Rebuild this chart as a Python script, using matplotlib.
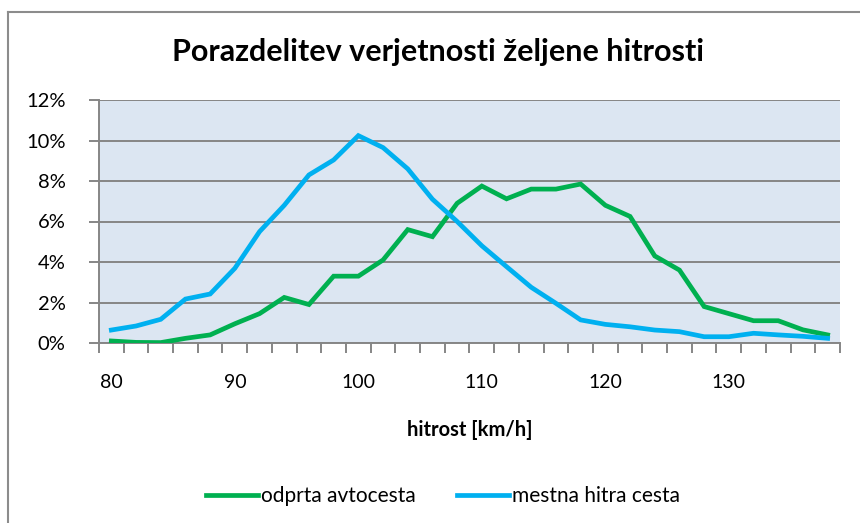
import matplotlib
matplotlib.use("Agg")
import matplotlib.pyplot as plt
from matplotlib.ticker import FixedLocator, FuncFormatter

plt.rcParams['font.family'] = ['Lato', 'DejaVu Sans']

# data, speed classes 80..138 km/h
hitrost = list(range(80, 140, 2))
odprta_avtocesta = [0.10, 0.03, 0.02, 0.23, 0.40, 0.95, 1.45, 2.25, 1.90, 3.30,
                    3.30, 4.10, 5.60, 5.25, 6.90, 7.75, 7.12, 7.60, 7.60, 7.85,
                    6.80, 6.25, 4.30, 3.60, 1.80, 1.45, 1.10, 1.10, 0.65, 0.40]
mestna_hitra_cesta = [0.64, 0.84, 1.17, 2.17, 2.42, 3.69, 5.50, 6.80, 8.30, 9.04,
                      10.24, 9.65, 8.60, 7.10, 6.00, 4.80, 3.77, 2.75, 1.96, 1.14,
                      0.92, 0.80, 0.64, 0.56, 0.31, 0.31, 0.48, 0.40, 0.33, 0.23]
series_names = ['odprta avtocesta', 'mestna hitra cesta']
x_labels = [80, 90, 100, 110, 120, 130]
y_ticks = [0, 2, 4, 6, 8, 10, 12]

W, H = 860, 523
fig = plt.figure(figsize=(W / 100, H / 100), dpi=100)

# outer chart border (only left and top visible in the crop)
fig.add_artist(plt.Line2D([8 / W, 8 / W], [0, 1 - 12 / H], color='#8c8c8c', lw=1.5))
fig.add_artist(plt.Line2D([8 / W, 1], [1 - 12 / H, 1 - 12 / H], color='#8c8c8c', lw=1.5))

ax = fig.add_axes([99 / W, 1 - 343 / H, (840 - 99) / W, (343 - 100) / H])
ax.set_facecolor('#dce6f2')

ax.plot(hitrost, odprta_avtocesta, color='#00b050', lw=3.4, solid_joinstyle='miter',
        label=series_names[0], zorder=3)
ax.plot(hitrost, mestna_hitra_cesta, color='#00b0f0', lw=3.4, solid_joinstyle='miter',
        label=series_names[1], zorder=3)

ax.set_xlim(79, 139)
ax.set_ylim(0, 12)

ax.set_yticks(y_ticks)
ax.yaxis.set_major_formatter(FuncFormatter(lambda v, p: f'{v:.0f}%'))
ax.grid(axis='y', color='#868686', lw=1.4)
ax.set_axisbelow(True)

ax.xaxis.set_major_locator(FixedLocator(x_labels))
ax.xaxis.set_minor_locator(FixedLocator(list(range(79, 141, 2))))
ax.tick_params(axis='x', which='major', length=0, pad=22, labelsize=14)
ax.tick_params(axis='x', which='minor', length=7, width=1.4, color='#868686', direction='out')
ax.tick_params(axis='y', length=7, width=1.4, color='#868686', pad=17, labelsize=14.5)

for s in ['top', 'right']:
    ax.spines[s].set_visible(False)
for s in ['left', 'bottom']:
    ax.spines[s].set_color('#868686')
    ax.spines[s].set_linewidth(1.4)

ax.set_xlabel('hitrost [km/h]', fontsize=14.5, fontweight='bold', labelpad=21)

fig.text(438 / W, 1 - 52 / H, 'Porazdelitev verjetnosti željene hitrosti',
         ha='center', va='center', fontsize=22, fontweight='bold')

fig.legend(loc='center', bbox_to_anchor=(443 / W, 1 - 496 / H), ncol=2, frameon=False,
           fontsize=15, handlelength=2.5, handletextpad=0.15, columnspacing=2.0)

fig.savefig('out.png', dpi=100)
